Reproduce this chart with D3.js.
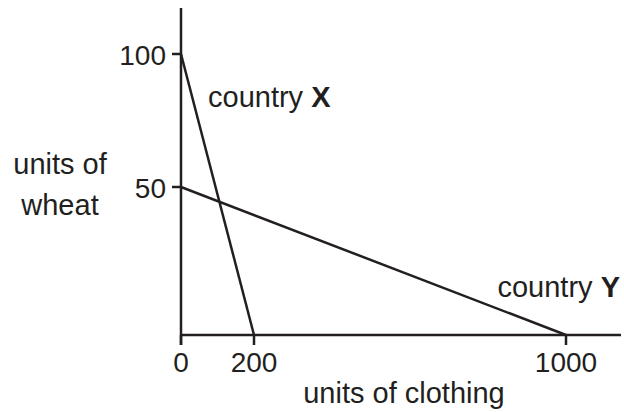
<!DOCTYPE html>
<html>
<head>
<meta charset="utf-8">
<script src="https://d3js.org/d3.v7.min.js"></script>
<style>
  body { margin: 0; background: #fff; }
  svg text { font-family: "Liberation Sans", Arial, sans-serif; fill: #231f20; }
</style>
</head>
<body>
<div id="chart"></div>
<script>
// schematic production possibility lines (not drawn to a linear scale)
var xTicks = [0, 200, 1000];
var yTicks = [50, 100];
var countryX = [{clothing: 0, wheat: 100}, {clothing: 200, wheat: 0}];
var countryY = [{clothing: 0, wheat: 50}, {clothing: 1000, wheat: 0}];

var width = 624, height = 412;
var ink = "#231f20";

var svg = d3.select("#chart").append("svg")
    .attr("width", width)
    .attr("height", height);

// the original axes are stretched by hand, so piecewise scales
var x = d3.scaleLinear().domain([0, 200, 1000]).range([181, 254, 566]);
var y = d3.scaleLinear().domain([0, 50, 100]).range([335, 187, 54]);

// axes lines
svg.append("line")
    .attr("x1", x(0)).attr("x2", 621)
    .attr("y1", y(0)).attr("y2", y(0))
    .attr("stroke", ink).attr("stroke-width", 2.5);
svg.append("line")
    .attr("x1", x(0)).attr("x2", x(0))
    .attr("y1", 8).attr("y2", y(0) + 10)
    .attr("stroke", ink).attr("stroke-width", 2.5);

// x ticks
svg.selectAll(".xtick")
    .data(xTicks)
    .enter().append("line")
    .attr("x1", function(d){ return x(d); })
    .attr("x2", function(d){ return x(d); })
    .attr("y1", y(0))
    .attr("y2", y(0) + 10)
    .attr("stroke", ink).attr("stroke-width", 2.5);

svg.selectAll(".xlab")
    .data(xTicks)
    .enter().append("text")
    .attr("x", function(d){ return x(d); })
    .attr("y", 372)
    .attr("text-anchor", "middle")
    .attr("font-size", 28)
    .text(function(d){ return d; });

// y ticks
svg.selectAll(".ytick")
    .data(yTicks)
    .enter().append("line")
    .attr("x1", x(0) - 9)
    .attr("x2", x(0))
    .attr("y1", function(d){ return y(d); })
    .attr("y2", function(d){ return y(d); })
    .attr("stroke", ink).attr("stroke-width", 2.5);

svg.selectAll(".ylab")
    .data(yTicks)
    .enter().append("text")
    .attr("x", x(0) - 15)
    .attr("y", function(d){ return y(d) + 11; })
    .attr("text-anchor", "end")
    .attr("font-size", 28)
    .text(function(d){ return d; });

// the two lines
var line = d3.line()
    .x(function(d){ return x(d.clothing); })
    .y(function(d){ return y(d.wheat); });

[countryX, countryY].forEach(function(s){
  svg.append("path")
      .datum(s)
      .attr("d", line)
      .attr("fill", "none")
      .attr("stroke", ink)
      .attr("stroke-width", 2.5);
});

// labels
var lx = svg.append("text").attr("x", 208).attr("y", 107).attr("font-size", 29);
lx.append("tspan").text("country ");
lx.append("tspan").attr("font-weight", "bold").text("X");

var ly = svg.append("text").attr("x", 620).attr("y", 297).attr("font-size", 29)
    .attr("text-anchor", "end");
ly.append("tspan").text("country ");
ly.append("tspan").attr("font-weight", "bold").text("Y");

svg.append("text")
    .attr("x", 60).attr("y", 174)
    .attr("text-anchor", "middle").attr("font-size", 29)
    .text("units of");
svg.append("text")
    .attr("x", 60).attr("y", 215)
    .attr("text-anchor", "middle").attr("font-size", 29)
    .text("wheat");

svg.append("text")
    .attr("x", 404).attr("y", 403)
    .attr("text-anchor", "middle").attr("font-size", 29)
    .text("units of clothing");
</script>
</body>
</html>
